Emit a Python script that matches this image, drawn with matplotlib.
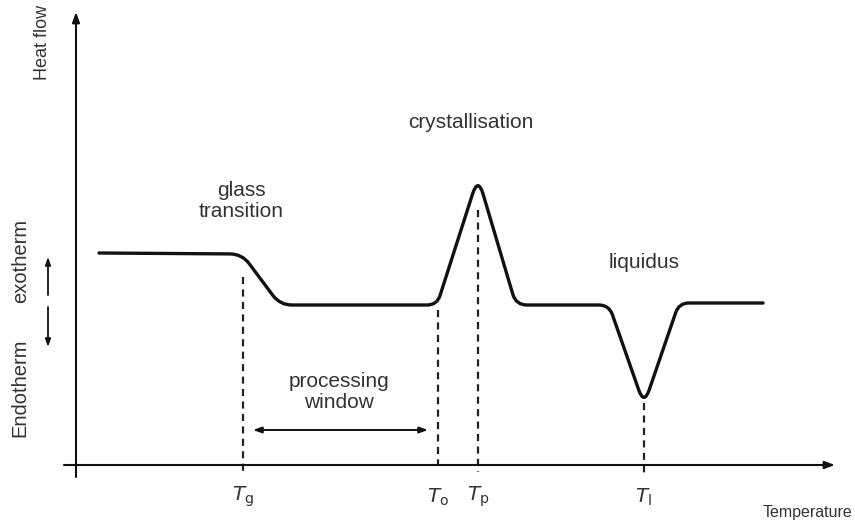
import matplotlib
matplotlib.use("Agg")
import matplotlib.pyplot as plt
from matplotlib.path import Path
from matplotlib.patches import PathPatch
import numpy as np

plt.rcParams['font.family'] = ['Liberation Sans', 'DejaVu Sans']

# Schematic DSC trace: key vertices (temperature, heat flow), corners get rounded
trace_T = [23, 166, 204, 361, 402, 440, 533, 568, 603, 687]
trace_H = [212, 211, 160, 160, 288, 160, 160, 60, 162, 162]
corner_r = [0, 12, 12, 10, 18, 11, 10, 16, 10, 0]

# Characteristic temperatures and where their guide lines start
char_names = ["g", "o", "p", "l"]
char_T = [167, 362, 402, 568]
char_top = [188, 155, 255, 62]
char_bottom = [-7, 0, -7, -10]

# Processing window between Tg and To
window_T = [177, 352]
window_H = 35

INK = "#111111"
TXT = "#333333"

fig = plt.figure(figsize=(8.55, 5.25), dpi=100)
ax = fig.add_axes([0, 0, 1, 1])
ax.set_xlim(-76, 779)
ax.set_ylim(-60, 465)
ax.axis("off")


def rounded_path(xs, ys, radii):
    pts = np.column_stack([xs, ys]).astype(float)
    verts = [pts[0]]
    codes = [Path.MOVETO]
    for i in range(1, len(pts) - 1):
        p0, p1, p2 = pts[i - 1], pts[i], pts[i + 1]
        r = radii[i]
        d1 = (p0 - p1) / np.linalg.norm(p0 - p1)
        d2 = (p2 - p1) / np.linalg.norm(p2 - p1)
        a = p1 + d1 * r
        b = p1 + d2 * r
        verts += [a, p1, b]
        codes += [Path.LINETO, Path.CURVE3, Path.CURVE3]
    verts.append(pts[-1])
    codes.append(Path.LINETO)
    return Path(verts, codes)


ax.add_patch(PathPatch(rounded_path(trace_T, trace_H, corner_r), fill=False,
                       lw=2.4, edgecolor=INK, capstyle="round", joinstyle="round"))

# Axes with arrow heads
arrow_kw = dict(arrowstyle="-|>,head_length=0.6,head_width=0.22", lw=1.5,
                color=INK, shrinkA=0, shrinkB=0)
ax.annotate("", xy=(0, 453), xytext=(0, -12), arrowprops=arrow_kw)
ax.annotate("", xy=(759, 0), xytext=(-12, 0), arrowprops=arrow_kw)

# Dashed guides and tick labels
for name, t, top, bot in zip(char_names, char_T, char_top, char_bottom):
    ax.plot([t, t], [top, bot], color="#222222", lw=1.6, ls=(0, (3.2, 2.4)))
    ax.text(t, -32, r"$\mathit{T}_{\mathrm{" + name + r"}}$", ha="center",
            va="center", fontsize=14.5, color=TXT)

# Processing window double arrow
ax.annotate("", xy=(window_T[0], window_H), xytext=(window_T[1], window_H),
            arrowprops=dict(arrowstyle="<|-|>,head_length=0.5,head_width=0.18",
                            lw=1.4, color=INK, shrinkA=0, shrinkB=0))

# Annotations
ax.text(165, 264, "glass\ntransition", ha="center", va="center", fontsize=15,
        color=TXT, linespacing=1.15)
ax.text(395, 342, "crystallisation", ha="center", va="center", fontsize=15,
        color=TXT)
ax.text(568, 203, "liquidus", ha="center", va="center", fontsize=15, color=TXT)
ax.text(263, 73, "processing\nwindow", ha="center", va="center", fontsize=15,
        color=TXT, linespacing=1.15)
ax.text(776, -47, "Temperature", ha="right", va="center", fontsize=11.5,
        color=TXT)

# Y-axis labels
ax.text(-34, 423, "Heat flow", rotation=90, ha="center", va="center",
        fontsize=13, color=TXT)
ax.text(-55, 204, "exotherm", rotation=90, ha="center", va="center",
        fontsize=14.5, color=TXT)
ax.text(-56, 77, "Endotherm", rotation=90, ha="center", va="center",
        fontsize=14.5, color=TXT)
small_arrow = dict(arrowstyle="-|>,head_length=0.45,head_width=0.16", lw=1.3,
                   color=INK, shrinkA=0, shrinkB=0)
ax.annotate("", xy=(-28, 208), xytext=(-28, 170), arrowprops=small_arrow)
ax.annotate("", xy=(-28, 118), xytext=(-28, 158), arrowprops=small_arrow)

fig.savefig("out.png", dpi=100)
